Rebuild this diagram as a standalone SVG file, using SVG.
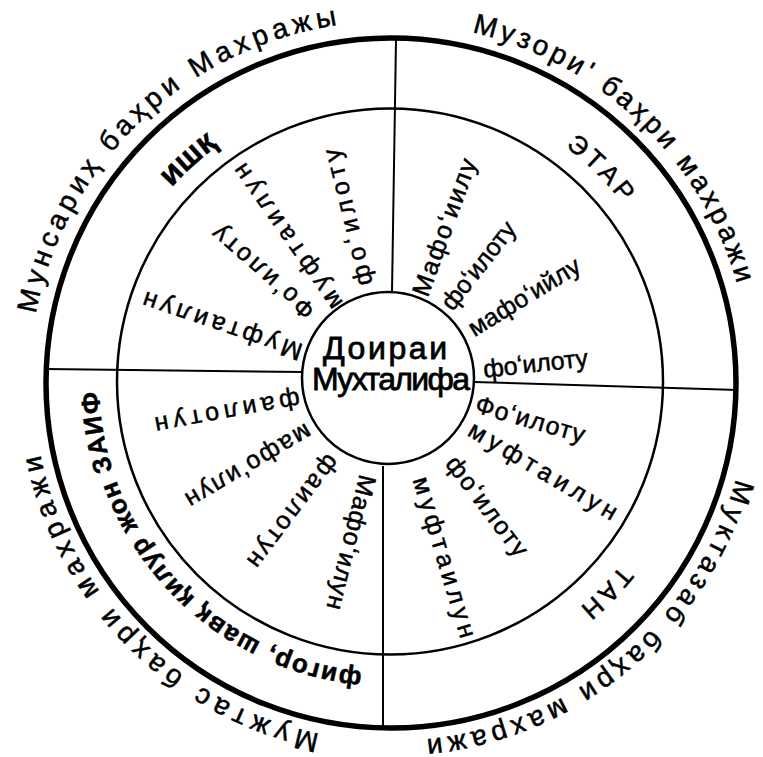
<svg xmlns="http://www.w3.org/2000/svg" width="763" height="757" viewBox="0 0 763 757">
<style>
.ring{fill:none;stroke:#000}
.t{font-family:"Liberation Sans","DejaVu Sans",sans-serif;fill:#000;stroke:#000;stroke-width:0.5}
.outer{font-size:28px}
.mid{font-size:26px}
.midb{font-size:32px;font-weight:bold}
.rad{font-size:25px}
.ctr{font-size:32px;stroke-width:0.8}
.div{stroke:#000;stroke-width:2;fill:none}
</style>
<defs>
<path id="p-out1" d="M35.65,313.93 A362,362 0 0 1 337.49,24.97"/>
<path id="p-out2" d="M471.98,32.23 A360,360 0 0 1 737.05,283.77"/>
<path id="p-out3" d="M735.98,478.67 A358,358 0 0 1 425.93,739.29"/>
<path id="p-out4" d="M319.63,733.81 A358,358 0 0 1 40.19,454.37"/>
<path id="p-mid1" d="M111.82,292.72 A292,292 0 0 1 327.8,96.2"/>
<path id="p-mid2" d="M465.83,98.48 A293,293 0 0 1 673.02,305.67"/>
<path id="p-mid3" d="M675.47,455.86 A295,295 0 0 1 468.34,665.91"/>
<path id="p-mid4" d="M362.11,671.16 A291,291 0 0 1 99.18,391.66"/>
</defs>
<rect width="763" height="757" fill="#fff"/>
<g id="rings">
<circle class="ring" cx="391" cy="383" r="345" stroke-width="5.5"/>
<circle class="ring" cx="390" cy="381.5" r="273" stroke-width="2.5"/>
</g>
<g id="connectors">
<line class="div" x1="396" y1="40" x2="392" y2="292"/>
<line class="div" x1="474" y1="382" x2="738" y2="390"/>
<line class="div" x1="383" y1="466" x2="383" y2="727"/>
<line class="div" x1="46" y1="369" x2="303" y2="372"/>
</g>
<g id="center">
<circle class="ring" cx="388" cy="378" r="86" stroke-width="2.5" fill="#fff"/>
<text class="t ctr" x="323" y="359" textLength="124" lengthAdjust="spacing">Доираи</text>
<text class="t ctr" x="312" y="390" textLength="158" lengthAdjust="spacing">Мухталифа</text>
</g>
<g id="sector-ishq">
<text class="t outer"><textPath href="#p-out1" textLength="445" lengthAdjust="spacing">Мунсариҳ баҳри Махражы</textPath></text>
<text class="t midb"><textPath href="#p-mid1" startOffset="50%" text-anchor="middle">ишқ</textPath></text>
<g transform="translate(390,381)">
<text class="t rad" transform="rotate(198.6)" x="93" y="7" textLength="167" lengthAdjust="spacing">Муфтаилун</text>
<text class="t rad" transform="rotate(221)" x="103" y="7" textLength="128" lengthAdjust="spacing">Фоʻилоту</text>
<text class="t rad" transform="rotate(235)" x="91" y="7" textLength="172" lengthAdjust="spacing">муфтаилун</text>
<text class="t rad" transform="rotate(256)" x="99" y="7" textLength="140" lengthAdjust="spacing">фоʻилоту</text>
</g>
</g>
<g id="sector-etar">
<text class="t outer"><textPath href="#p-out2" textLength="383" lengthAdjust="spacing">Музори' баҳри махражи</textPath></text>
<text class="t mid" letter-spacing="4"><textPath href="#p-mid2" startOffset="50%" text-anchor="middle">ЭТАР</textPath></text>
<g transform="translate(390,381)">
<text class="t rad" transform="rotate(290)" x="91" y="7" textLength="144" lengthAdjust="spacing">Мафоʻиилу</text>
<text class="t rad" transform="rotate(308)" x="93" y="7" textLength="105" lengthAdjust="spacing">фоʻилоту</text>
<text class="t rad" transform="rotate(328.4)" x="95" y="7" textLength="127" lengthAdjust="spacing">мафоʻийлу</text>
<text class="t rad" transform="rotate(353.7)" x="94" y="7" textLength="105" lengthAdjust="spacing">фоʻилоту</text>
</g>
</g>
<g id="sector-tan">
<text class="t outer"><textPath href="#p-out3" textLength="430" lengthAdjust="spacing">Муктазаб баҳри махражи</textPath></text>
<text class="t mid" letter-spacing="4"><textPath href="#p-mid3" startOffset="50%" text-anchor="middle">ТАН</textPath></text>
<g transform="translate(390,381)">
<text class="t rad" transform="rotate(15.9)" x="89" y="7" textLength="113" lengthAdjust="spacing">Фоʻилоту</text>
<text class="t rad" transform="rotate(30.8)" x="93" y="7" textLength="169" lengthAdjust="spacing">муфтаилун</text>
<text class="t rad" transform="rotate(52.7)" x="99" y="7" textLength="119" lengthAdjust="spacing">фоʻилоту</text>
<text class="t rad" transform="rotate(73.2)" x="101" y="7" textLength="167" lengthAdjust="spacing">муфтаилун</text>
</g>
</g>
<g id="sector-zaif">
<text class="t outer"><textPath href="#p-out4" textLength="418" lengthAdjust="spacing">Мужтас баҳри махражи</textPath></text>
<text class="t mid" font-size="24" font-weight="bold" stroke-width="0"><textPath href="#p-mid4" textLength="419" lengthAdjust="spacing">фигор, шавқ қилур жон ЗАИФ</textPath></text>
<g transform="translate(390,381)">
<text class="t rad" transform="rotate(104)" x="97" y="7" textLength="138" lengthAdjust="spacing">Мафоʻилун</text>
<text class="t rad" transform="rotate(127)" x="95" y="7" textLength="135" lengthAdjust="spacing">фаилотун</text>
<text class="t rad" transform="rotate(149.4)" x="94" y="7" textLength="142" lengthAdjust="spacing">мафоʻилун</text>
<text class="t rad" transform="rotate(169.5)" x="92" y="7" textLength="147" lengthAdjust="spacing">фаилотун</text>
</g>
</g>
</svg>
